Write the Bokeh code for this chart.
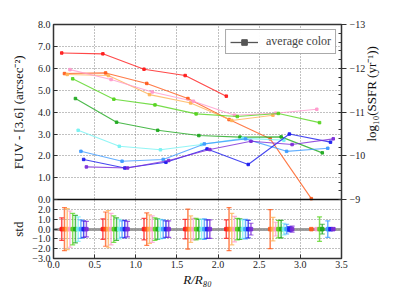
import numpy as np
from bokeh.plotting import figure
from bokeh.models import (Range1d, LinearAxis, FixedTicker, NumeralTickFormatter,
                          CustomJSTickFormatter, Whisker, ColumnDataSource,
                          TeeHead, Legend, LegendItem)
from bokeh.embed import file_html
from bokeh.resources import INLINE

# ---------------- data ----------------
r_bins = [0.0, 0.5, 1.0, 1.5, 2.0, 2.5, 3.0]          # radial bin starts (R/R80)
x_ticks = [0.0, 0.5, 1.0, 1.5, 2.0, 2.5, 3.0, 3.5]
y_ticks = [0, 1, 2, 3, 4, 5, 6, 7, 8]
ssfr_ticks = [-13, -12, -11, -10, -9]
std_ticks = [-3, -2, -1, 0, 1, 2]

series_names = ["red", "orangered", "sandy", "pink", "lime", "green",
                "cyan", "skyblue", "blue", "purple"]

color_red = [6.70, 6.66, 5.96, 5.67, 4.73]
color_orangered = [5.76, 5.79, 5.31, 4.62, 3.66, 2.78, 0.05]
color_sandy = [5.72, 5.67, 4.80, 4.42, 3.62, 3.86]
color_pink = [5.94, 5.49, 4.92, 4.50, 3.86, 3.95, 4.13]
color_lime = [5.52, 4.59, 4.33, 3.92, 3.80, 3.94, 3.52]
color_green = [4.62, 3.54, 3.17, 2.93, 2.86, 2.87, 2.14]
color_cyan = [3.17, 2.44, 2.28, 2.52, 2.80, 2.72]
color_skyblue = [2.21, 1.76, 1.84, 2.55, 2.78, 2.21, 2.35]
color_blue = [1.84, 1.45, 1.71, 2.32, 1.61, 3.00, 2.63]
color_purple = [1.50, 1.45, 1.79, 2.29, 2.67, 2.52, 2.78]

std_red = [1.15, 1.05, 1.10, 1.00, 0.95]
std_orangered = [2.20, 1.75, 1.65, 2.05, 2.20, 2.00, 0.05]
std_sandy = [2.10, 1.90, 1.45, 1.35, 1.60, 1.20]
std_pink = [1.85, 1.60, 1.35, 1.10, 1.30, 0.70, 0.12]
std_lime = [1.60, 1.35, 1.15, 1.10, 1.10, 0.90, 1.25]
std_green = [1.40, 1.15, 1.05, 1.00, 1.05, 0.90, 0.50]
std_cyan = [1.25, 1.00, 1.00, 1.00, 0.95, 0.60]
std_skyblue = [0.95, 0.85, 0.95, 1.05, 1.00, 0.50, 0.85]
std_blue = [0.85, 0.90, 0.85, 0.95, 0.90, 0.25, 0.15]
std_purple = [0.80, 0.80, 0.85, 0.95, 0.60, 0.30, 0.10]

colors_list = [color_red, color_orangered, color_sandy, color_pink, color_lime,
               color_green, color_cyan, color_skyblue, color_blue, color_purple]
stds_list = [std_red, std_orangered, std_sandy, std_pink, std_lime,
             std_green, std_cyan, std_skyblue, std_blue, std_purple]

# ---------------- styles / layout ----------------
line_colors = ["#ff1a1a", "#ff5a1a", "#ffb255", "#ff99cc", "#55d41e",
               "#1ea81e", "#77f2f2", "#3d9bff", "#1a1aee", "#7a2ad8"]
FONT = "Liberation Serif"
dodge0 = 0.1
dodge_step = 0.0333
W, H = 389, 289
B_LEFT, B_RIGHT, B_TOP, B_BOTTOM = 53, 47, 24, 30
TOP_H, BOT_H = 176, 59                 # pixel heights of the two panels
FRAME_H = TOP_H + BOT_H

# each panel gets its own range; all share one frame
k_top = TOP_H / (y_ticks[-1] - y_ticks[0])          # px per colour unit
k_std = BOT_H / 6.0                                 # px per std unit (-3..3)
k_ss = TOP_H / 4.0                                  # px per log SSFR unit
p_start = y_ticks[-1] - FRAME_H / k_top
std_end = -3 + FRAME_H / k_std
ss_start = -9 + BOT_H / k_ss


def xs_for(i, n):
    return [b + dodge0 + i * dodge_step for b in r_bins[:n]]


p = figure(width=W, height=H,
           x_range=Range1d(0, 3.5), y_range=Range1d(p_start, y_ticks[-1]),
           output_backend="svg", toolbar_location=None,
           min_border_left=B_LEFT, min_border_top=B_TOP,
           min_border_bottom=B_BOTTOM, min_border_right=B_RIGHT)
p.extra_y_ranges = {"std": Range1d(-3, std_end), "ssfr": Range1d(ss_start, -13)}

# left axis: colour ticks on top panel, std ticks on bottom panel
std_pos = [p_start + (s + 3) * k_std / k_top for s in std_ticks]
p.yaxis.ticker = FixedTicker(ticks=y_ticks + std_pos)
p.yaxis.formatter = CustomJSTickFormatter(args=dict(p0=p_start, kt=k_top, ks=k_std), code="""
if (tick > -1e-6) { return tick.toFixed(1); }
const s = Math.round((tick - p0) * kt / ks - 3);
return (s < 0 ? '\u2212' : '') + Math.abs(s).toFixed(1);
""")

# outer left "axis" carrying the two panel titles, centred on each panel
ltitle = LinearAxis(ticker=FixedTicker(ticks=[4.0, p_start + 3 * k_std / k_top]),
                    formatter=CustomJSTickFormatter(code="""
return tick > 0 ? 'FUV - [3.6] (arcsec\u207b\u00b2)' : 'std';
"""))
p.add_layout(ltitle, "left")

# right axis (log SSFR), bounded to the top panel so its title centres there
rax = LinearAxis(y_range_name="ssfr", bounds=(-13, -9),
                 ticker=FixedTicker(ticks=ssfr_ticks,
                                    minor_ticks=list(np.arange(-13, -8.99, 0.2))),
                 formatter=CustomJSTickFormatter(code="return (tick < 0 ? '\u2212' : '') + Math.abs(tick).toFixed(0);"),
                 axis_label="log\u2081\u2080(SSFR (yr\u207b\u00b9))")
p.add_layout(rax, "right")
if "axis_label_orientation" in rax.properties():
    rax.axis_label_orientation = np.pi / 2

p.xaxis.ticker = FixedTicker(ticks=x_ticks)
p.xaxis.formatter = NumeralTickFormatter(format="0.0")
p.xaxis.axis_label = "R/R\u2088\u2080"
p.xgrid.ticker = FixedTicker(ticks=x_ticks)

# ---- top panel: colour profiles ----
for i, (vals, c) in enumerate(zip(colors_list, line_colors)):
    xs = xs_for(i, len(vals))
    p.line(xs, vals, line_color=c, line_width=1.1, line_alpha=0.8)
    p.scatter(xs, vals, marker="square", size=2.5, fill_color=c, line_color=c, alpha=0.9)

# panel separator (colour = 0) and bottom zero line (std = 0)
p.hspan(y=[0.0], line_color="#111111", line_width=1.6)
p.hspan(y=[0.0], y_range_name="std", line_color="#888888", line_width=3, line_alpha=0.8)

# ---- bottom panel: std error bars ----
for i, (sd, c) in enumerate(zip(stds_list, line_colors)):
    xs = xs_for(i, len(sd))
    src = ColumnDataSource(dict(x=xs, upper=list(sd), lower=[-s for s in sd],
                                zero=[0.0] * len(sd)))
    w = Whisker(source=src, base="x", upper="upper", lower="lower",
                dimension="height", y_range_name="std",
                line_color=c, line_width=1.5, line_alpha=0.75,
                upper_head=TeeHead(size=5, line_color=c, line_width=1.2, line_alpha=0.75),
                lower_head=TeeHead(size=5, line_color=c, line_width=1.2, line_alpha=0.75))
    p.add_layout(w)
    p.scatter("x", "zero", source=src, y_range_name="std", marker="square", size=3.5,
              fill_color=c, line_color=c, alpha=0.9)

# ---- legend ----
r_leg_line = p.line([np.nan], [np.nan], line_color="#555555", line_width=1.3)
r_leg_mark = p.scatter([np.nan], [np.nan], marker="square", size=3.5,
                       fill_color="#555555", line_color="#555555")
legend = Legend(items=[LegendItem(label="average color",
                                  renderers=[r_leg_line, r_leg_mark])],
                location="top_right")
p.add_layout(legend)
legend.label_text_font = FONT
legend.label_text_font_size = "12px"
legend.border_line_color = "#555555"
legend.border_line_width = 1.5
legend.glyph_width = 28
legend.glyph_height = 14
legend.padding = 4
legend.margin = 5
legend.label_standoff = 8

# ---------------- styling ----------------
p.outline_line_color = "#333333"
p.outline_line_width = 1.5
p.grid.grid_line_color = "#777777"
p.grid.grid_line_dash = "1 2"
p.grid.grid_line_alpha = 0.9
for ax in p.axis:
    ax.major_label_text_font = FONT
    ax.major_label_text_font_size = "10px"
    ax.major_label_text_color = "#222222"
    ax.axis_label_text_font = FONT
    ax.axis_label_text_font_size = "13px"
    ax.axis_label_text_font_style = "normal"
    ax.axis_label_text_color = "#111111"
    ax.axis_line_color = "#333333"
    ax.major_tick_line_color = "#333333"
    ax.minor_tick_line_color = "#333333"
    ax.major_tick_in = 4
    ax.major_tick_out = 0
    ax.minor_tick_in = 0
    ax.minor_tick_out = 0
    ax.major_label_standoff = 3
    ax.axis_label_standoff = 3

ltitle.axis_line_color = None
ltitle.major_tick_line_color = None
ltitle.minor_tick_line_color = None
ltitle.major_tick_in = 0
ltitle.major_label_orientation = "parallel"
ltitle.major_label_text_font_size = "13px"
ltitle.major_label_text_color = "#111111"
ltitle.major_label_standoff = 3

rax.major_tick_in = 0
rax.major_tick_out = 5
rax.minor_tick_in = 3
p.xaxis.axis_label_text_font_style = "italic"
p.xaxis.major_label_standoff = 2
p.xaxis.axis_label_standoff = 1

open("out.html", "w").write(file_html(p, INLINE))
